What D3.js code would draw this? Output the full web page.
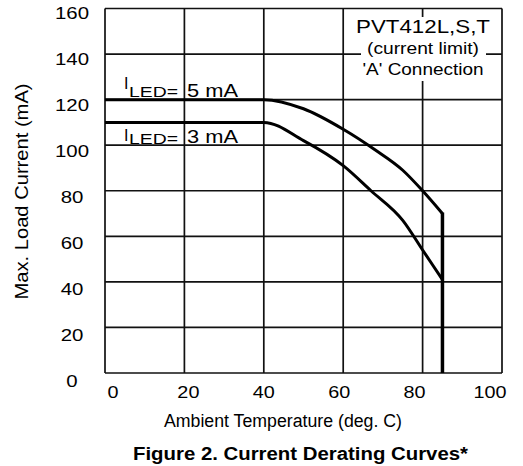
<!DOCTYPE html>
<html>
<head>
<meta charset="utf-8">
<script src="https://cdn.jsdelivr.net/npm/d3@7"></script>
<style>
  html, body { margin: 0; padding: 0; background: #fff; }
  text { font-family: "Liberation Sans", Arial, Helvetica, sans-serif; fill: #000; }
</style>
</head>
<body>
<svg id="chart" width="523" height="466"></svg>
<script>
// ---- data ----
const xTicks = [0, 20, 40, 60, 80, 100];
const yTicks = [0, 20, 40, 60, 80, 100, 120, 140, 160];
const temp5mA = [0, 40, 50, 60, 68, 75, 80, 85];
const load5mA = [120, 120, 116, 107, 98, 89, 80, 70];
const temp3mA = [0, 40, 50, 60, 67, 75, 80, 85];
const load3mA = [110, 110, 102, 91, 80, 67, 54, 41];
const cutoffTemp = 85;
const noteLines = ["PVT412L,S,T", "(current limit)", "'A' Connection"];
const xTitle = "Ambient Temperature (deg. C)";
const yTitle = "Max. Load Current (mA)";
const figTitle = "Figure 2. Current Derating Curves*";

const svg = d3.select("#chart");
const x = d3.scaleLinear().domain([0, 100]).range([105, 502]);
const y = d3.scaleLinear().domain([0, 160]).range([373, 8.5]);
// tick label placement (labels in the scan sit slightly off the grid)
const xLab = d3.scaleLinear().domain([0, 100]).range([113, 490]);
const yLab = d3.scaleLinear().domain([0, 160]).range([381, 13]);

function stretch(sel, k) {
  sel.each(function () {
    const w = this.getComputedTextLength();
    d3.select(this).attr("textLength", w * k).attr("lengthAdjust", "spacingAndGlyphs");
  });
}

// grid
const grid = svg.append("g").attr("stroke", "#111").attr("stroke-width", 1.7);
grid.selectAll("line.v").data(xTicks).join("line")
  .attr("x1", d => x(d)).attr("x2", d => x(d))
  .attr("y1", y(0)).attr("y2", y(160));
grid.selectAll("line.h").data(yTicks).join("line")
  .attr("y1", d => y(d)).attr("y2", d => y(d))
  .attr("x1", x(0)).attr("x2", x(100));

// note box (white out grid behind)
svg.append("rect").attr("x", 361).attr("y", 17).attr("width", 125).attr("height", 64).attr("fill", "#fff");
const note = svg.append("g");
const noteY = [33, 54, 75];
const noteSize = [18, 16, 16];
const noteW = [134, 112, 121];
noteLines.forEach((t, i) => {
  note.append("text").attr("x", 423).attr("y", noteY[i]).attr("text-anchor", "middle")
    .attr("font-size", noteSize[i]).attr("textLength", noteW[i])
    .attr("lengthAdjust", "spacingAndGlyphs").text(t);
});

// curves
const line = d3.line().x(d => x(d[0])).y(d => y(d[1])).curve(d3.curveMonotoneX);
const series = [d3.zip(temp5mA, load5mA), d3.zip(temp3mA, load3mA)];
svg.selectAll("path.curve").data(series).join("path")
  .attr("class", "curve").attr("d", line)
  .attr("fill", "none").attr("stroke", "#000").attr("stroke-width", 3);
// vertical cutoff
const topEnd = Math.max(load5mA[load5mA.length - 1], load3mA[load3mA.length - 1]);
svg.append("line").attr("x1", x(cutoffTemp)).attr("x2", x(cutoffTemp))
  .attr("y1", y(topEnd) - 1).attr("y2", y(0))
  .attr("stroke", "#000").attr("stroke-width", 3.5);

// tick labels
const yl = svg.append("g").selectAll("text").data(yTicks).join("text")
  .attr("x", 72).attr("y", d => yLab(d)).attr("dy", "0.35em")
  .attr("text-anchor", "middle").attr("font-size", 17).text(d => d);
stretch(yl, 1.2);
const xl = svg.append("g").selectAll("text").data(xTicks).join("text")
  .attr("x", d => xLab(d)).attr("y", 398)
  .attr("text-anchor", "middle").attr("font-size", 16.5).text(d => d);
stretch(xl, 1.2);

// axis titles
svg.append("text").attr("x", 283).attr("y", 427).attr("text-anchor", "middle")
  .attr("font-size", 18).attr("textLength", 238).attr("lengthAdjust", "spacingAndGlyphs").text(xTitle);
svg.append("text").attr("transform", "translate(28,191.5) rotate(-90)").attr("text-anchor", "middle")
  .attr("font-size", 18).attr("textLength", 216).attr("lengthAdjust", "spacingAndGlyphs").text(yTitle);
svg.append("text").attr("x", 300.5).attr("y", 460).attr("text-anchor", "middle")
  .attr("font-size", 18).attr("font-weight", "bold").attr("textLength", 335)
  .attr("lengthAdjust", "spacingAndGlyphs").text(figTitle);

// I_LED labels
const ledLabels = [
  { val: "5 mA", iY: 89, subY: 97, valY: 97 },
  { val: "3 mA", iY: 141, subY: 144, valY: 143 }
];
ledLabels.forEach(l => {
  svg.append("text").attr("x", 124).attr("y", l.iY).attr("font-size", 16).text("I");
  svg.append("text").attr("x", 129).attr("y", l.subY).attr("font-size", 15)
    .attr("textLength", 49).attr("lengthAdjust", "spacingAndGlyphs").text("LED=");
  svg.append("text").attr("x", 187).attr("y", l.valY).attr("font-size", 18)
    .attr("textLength", 51).attr("lengthAdjust", "spacingAndGlyphs").text(l.val);
});
</script>
</body>
</html>
